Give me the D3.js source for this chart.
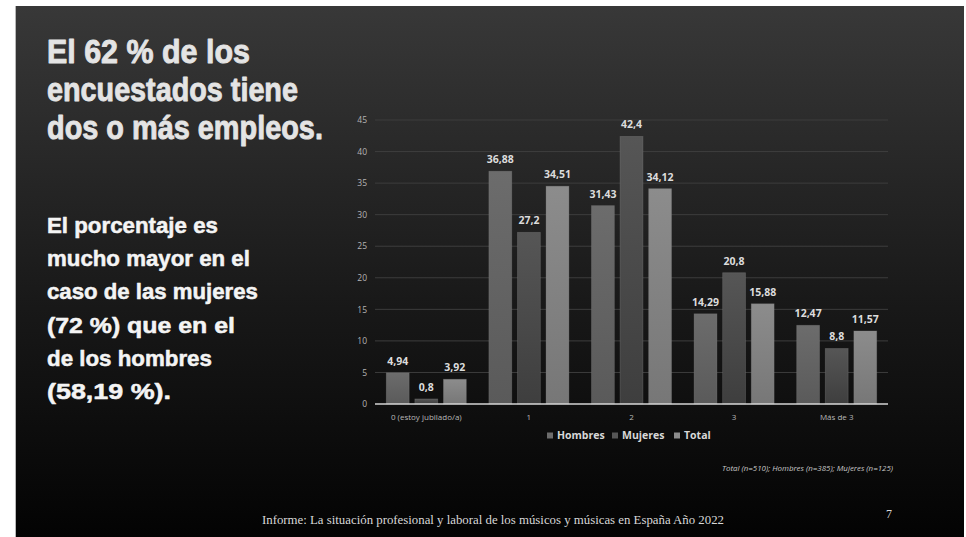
<!DOCTYPE html>
<html><head><meta charset="utf-8">
<script src="https://cdn.jsdelivr.net/npm/d3@7"></script>
<style>html,body{margin:0;padding:0;background:#fff;}svg{display:block;}</style>
</head><body>
<script>
const categories = ["0 (estoy jubilado/a)", "1", "2", "3", "Más de 3"];
const seriesNames = ["Hombres", "Mujeres", "Total"];
const hombres = [4.94, 36.88, 31.43, 14.29, 12.47];
const mujeres = [0.8, 27.2, 42.4, 20.8, 8.8];
const total = [3.92, 34.51, 34.12, 15.88, 11.57];
const yTicks = [0, 5, 10, 15, 20, 25, 30, 35, 40, 45];
const valueLabels = [
  ["4,94", "36,88", "31,43", "14,29", "12,47"],
  ["0,8", "27,2", "42,4", "20,8", "8,8"],
  ["3,92", "34,51", "34,12", "15,88", "11,57"]
];
const titleLines = ["El 62 % de los", "encuestados tiene", "dos o más empleos."];
const subtitleLines = ["El porcentaje es", "mucho mayor en el", "caso de las mujeres", "(72 %) que en el", "de los hombres", "(58,19 %)."];
const footnote = "Total (n=510); Hombres (n=385); Mujeres (n=125)";
const footer = "Informe: La situación profesional y laboral de los músicos y músicas en España Año 2022";
const pageNumber = "7";

(function () {
const seriesValues = [hombres, mujeres, total];
const W = 966, H = 537;
const svg = d3.select("body").append("svg").attr("width", W).attr("height", H);
const defs = svg.append("defs");

const bg = defs.append("linearGradient").attr("id", "bg").attr("x1", 0).attr("y1", 0).attr("x2", 0).attr("y2", 1);
bg.append("stop").attr("offset", "0%").attr("stop-color", "#383838");
bg.append("stop").attr("offset", "55%").attr("stop-color", "#191919");
bg.append("stop").attr("offset", "100%").attr("stop-color", "#030303");

svg.append("rect").attr("width", W).attr("height", H).attr("fill", "#fff");
svg.append("rect").attr("x", 15).attr("y", 6).attr("width", 1).attr("height", H - 6).attr("fill", "#b8b8b8");
svg.append("rect").attr("x", 16).attr("y", 6).attr("width", 948).attr("height", H - 6).attr("fill", "url(#bg)");

// fit a text line horizontally to a target width by scaling
function fitLines(lines, widths, y0, dy, size, color, strokeW) {
  const g = svg.append("g");
  g.selectAll("text").data(lines).join("text")
    .attr("x", 0).attr("y", 0)
    .attr("font-family", "'Liberation Sans Narrow', 'Liberation Sans', Arial, sans-serif")
    .attr("font-weight", "bold").attr("font-size", size).attr("fill", color)
    .attr("stroke", color).attr("stroke-width", strokeW).attr("stroke-linejoin", "round")
    .text(d => d)
    .each(function (d, i) {
      const nat = this.getComputedTextLength() || widths[i];
      const sx = widths[i] / nat;
      d3.select(this).attr("transform", `translate(47,${y0 + i * dy}) scale(${sx},1)`);
    });
}
fitLines(titleLines, [203, 251, 276], 63, 38, 34, "#e4e4e4", 0.9);
fitLines(subtitleLines, [171, 203, 211, 188, 165, 124], 233, 33.2, 21.5, "#f4f4f4", 0.5);

// Chart
const pl = 375, pr = 888, pt = 120, pb = 404;
const x0 = d3.scaleBand().domain(categories).range([pl, pr]).paddingInner(0.22).paddingOuter(0.11);
const x1 = d3.scaleBand().domain(seriesNames).range([0, x0.bandwidth()]).paddingInner(0.2).paddingOuter(0);
const y = d3.scaleLinear().domain([0, 45]).range([pb, pt]);

const barColors = [["#6c6c6c", "#5a5a5a"], ["#565656", "#3e3e3e"], ["#8c8c8c", "#777777"]];
seriesNames.forEach((s, i) => {
  const g = defs.append("linearGradient").attr("id", "g" + i).attr("x1", 0).attr("y1", 0).attr("x2", 0).attr("y2", 1);
  g.append("stop").attr("offset", "0%").attr("stop-color", barColors[i][0]);
  g.append("stop").attr("offset", "100%").attr("stop-color", barColors[i][1]);
});

const grid = svg.append("g");
grid.selectAll("line").data(yTicks.filter(t => t > 0)).join("line")
  .attr("x1", pl).attr("x2", pr).attr("y1", d => y(d)).attr("y2", d => y(d))
  .attr("stroke", "#3d3d3d").attr("stroke-width", 1);

const yAxis = svg.append("g").attr("transform", `translate(${pl},0)`)
  .call(d3.axisLeft(y).tickValues(yTicks).tickSize(0).tickPadding(8));
yAxis.select(".domain").remove();
yAxis.selectAll("text").attr("fill", "#b4b4b4").attr("font-size", 8.5).attr("font-family", "'Open Sans', sans-serif");

const groups = svg.append("g").selectAll("g").data(categories).join("g")
  .attr("transform", d => `translate(${x0(d)},0)`);
const rowsOf = (c, ci) => seriesNames.map((s, si) => ({s, si, v: seriesValues[si][ci], l: valueLabels[si][ci]}));
groups.selectAll("rect").data(rowsOf).join("rect")
  .attr("x", d => x1(d.s)).attr("width", x1.bandwidth())
  .attr("y", d => y(d.v)).attr("height", d => pb - y(d.v))
  .attr("fill", d => `url(#g${d.si})`)
  .attr("stroke", "#8a8a8a").attr("stroke-opacity", 0.35).attr("stroke-width", 0.8);
groups.selectAll("text").data(rowsOf).join("text")
  .attr("x", d => x1(d.s) + x1.bandwidth() / 2).attr("y", d => y(d.v) - 8)
  .attr("text-anchor", "middle")
  .attr("font-family", "'Open Sans', sans-serif").attr("font-weight", "bold").attr("font-size", 10.5)
  .attr("fill", "#dcdcdc").text(d => d.l);

svg.append("line").attr("x1", pl).attr("x2", pr).attr("y1", pb).attr("y2", pb)
  .attr("stroke", "#d4d4d4").attr("stroke-width", 1.6);

const xAxis = svg.append("g").attr("transform", `translate(0,${pb})`)
  .call(d3.axisBottom(x0).tickSize(0).tickPadding(10));
xAxis.select(".domain").remove();
xAxis.selectAll("text").attr("fill", "#b8b8b8").attr("font-size", 8).attr("font-family", "'Open Sans', sans-serif");

// Legend
const legendX = [547, 612, 674];
const legend = svg.append("g").selectAll("g").data(seriesNames).join("g")
  .attr("transform", (d, i) => `translate(${legendX[i]},439)`);
legend.append("rect").attr("x", 0).attr("y", -6.5).attr("width", 6).attr("height", 6)
  .attr("fill", (d, i) => barColors[i][0]);
legend.append("text").attr("x", 10).attr("y", 0)
  .attr("font-family", "'Open Sans', sans-serif").attr("font-weight", "bold").attr("font-size", 10.5)
  .attr("fill", "#d8d8d8").text(d => d);

svg.append("text").attr("x", 722).attr("y", 471).attr("textLength", 171).attr("lengthAdjust", "spacingAndGlyphs")
  .attr("font-family", "'Open Sans', sans-serif").attr("font-style", "italic").attr("font-size", 7)
  .attr("fill", "#c8c8c8").text(footnote);

svg.append("text").attr("x", 262).attr("y", 524).attr("textLength", 462).attr("lengthAdjust", "spacingAndGlyphs")
  .attr("font-family", "'Liberation Serif', serif").attr("font-size", 13)
  .attr("fill", "#d8d8d8").text(footer);
svg.append("text").attr("x", 889).attr("y", 518).attr("text-anchor", "middle")
  .attr("font-family", "'Liberation Serif', serif").attr("font-size", 12)
  .attr("fill", "#d8d8d8").text(pageNumber);
})();
</script>
</body></html>
